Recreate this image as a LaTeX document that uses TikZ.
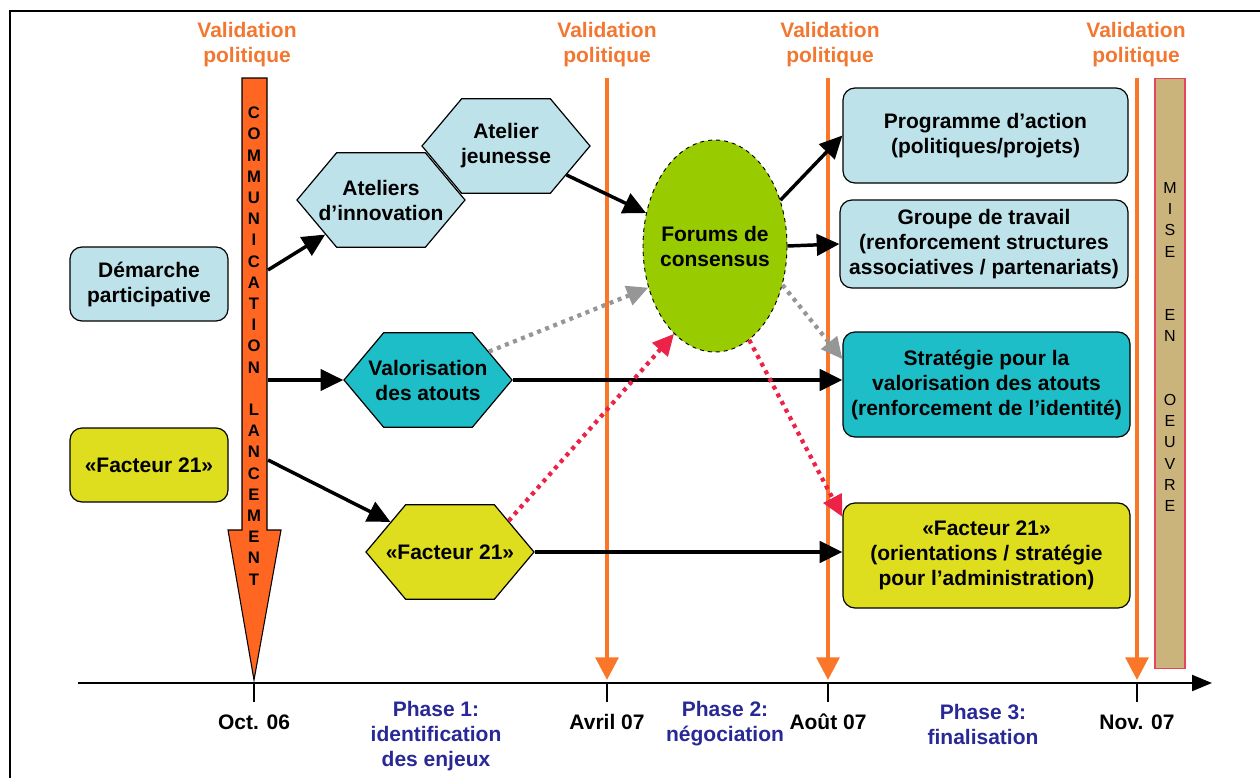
\documentclass[tikz,border=0pt]{standalone}
\usepackage{fontspec}
\setmainfont{Liberation Sans}
\usetikzlibrary{arrows.meta,shapes.geometric,shapes.symbols}

\definecolor{bleuclair}{RGB}{190,226,234}
\definecolor{turquoise}{RGB}{30,190,200}
\definecolor{jaune}{RGB}{222,222,30}
\definecolor{vertforum}{RGB}{153,204,0}
\definecolor{orangeval}{RGB}{242,120,50}
\definecolor{orangetrait}{RGB}{250,118,40}
\definecolor{orangecom}{RGB}{255,102,34}
\definecolor{beige}{RGB}{202,180,124}
\definecolor{rougemise}{RGB}{230,70,90}
\definecolor{rose}{RGB}{236,34,70}
\definecolor{gris}{RGB}{150,150,150}
\definecolor{bleuphase}{RGB}{40,40,150}

\newcommand{\ligne}[1]{\makebox[40pt]{#1}}

\begin{document}
\begin{tikzpicture}[x=0.75pt,y=-0.75pt,
    every node/.style={font=\fontsize{15.75}{18.75}\selectfont\bfseries,align=center,inner sep=0pt},
    boite/.style={draw,rounded corners=9pt,line width=0.9pt},
    hexa/.style={draw,signal,signal to=east and west,signal pointer angle=100,line width=0.9pt,minimum width=126pt,minimum height=71pt},
    lettre/.style={font=\fontsize{12.5}{14}\selectfont\bfseries},
    lettremise/.style={font=\fontsize{12}{14}\selectfont},
    fleche/.style={line width=2.6pt,-{Triangle[length=17pt,width=16pt]}},
    pointille/.style={line width=3.2pt,dash pattern=on 3pt off 3.5pt,-{Triangle[length=16pt,width=15pt]}},
    jalon/.style={draw=orangetrait,line width=3pt,-{Triangle[length=17pt,width=17pt]}},
  ]
  \useasboundingbox (0,0) rectangle (1260,778);
  \draw[line width=1.5pt] (10,778) -- (10,11) -- (1260,11);

  \foreach \x/\nom in {247/v0,607/v1,830/v2,1136/v3}
    \node[text=orangeval] (\nom) at (\x,45) {Validation\\politique};

  \draw[line width=1.6pt,-{Triangle[length=15pt,width=12pt]}] (78,683) -- (1212,683);
  \foreach \x/\d/\nom in {254/Oct. 06/d0,607/Avril 07/d1,828/Août 07/d2,1137/Nov. 07/d3}{
    \coordinate (t\nom) at (\x,683);
    \draw[line width=1.2pt] (t\nom) -- (\x,702);
    \node (\nom) at (\x,722) {\d};
  }
  \foreach \x in {607,828,1137}
    \draw[jalon] (\x,78) -- (\x,680);

  \node[text=bleuphase] (phase1) at (436,736) {Phase 1:\\identification\\des enjeux};
  \node[text=bleuphase] (phase2) at (725,724) {Phase 2:\\négociation};
  \node[text=bleuphase] (phase3) at (983,724) {Phase 3:\\finalisation};

  \draw[fill=orangecom,line width=0.8pt] (242,78) -- (267,78) -- (267,530) -- (281,530)
    -- (254,680) -- (228,530) -- (242,530) -- cycle;
  \foreach \l [count=\i] in {C,O,M,M,U,N,I,C,A,T,I,O,N,{},L,A,N,C,E,M,E,N,T}
    \node[lettre] (com\i) at (254,113+21.2*\i-21.2) {\l};

  \node[draw=rougemise,fill=beige,minimum width=22.5pt,minimum height=443pt,line width=0.8pt] (mise) at (1170,373.5) {};
  \foreach \l [count=\i] in {M,I,S,E,{},{},E,N,{},{},O,E,U,V,R,E}
    \node[lettremise] (mise\i) at (1170,188+21.2*\i-21.2) {\l};

  \node[boite,fill=bleuclair,minimum width=118.5pt,minimum height=55.5pt] (demarche) at (149,284) {Démarche\\participative};
  \node[boite,fill=jaune,minimum width=118.5pt,minimum height=55.5pt] (facteurG) at (149,465) {«Facteur 21»};

  \node[hexa,fill=bleuclair] (ateliers) at (381,200) {\ligne{Ateliers}\\\ligne{d’innovation}};
  \node[hexa,fill=bleuclair] (jeunesse) at (506,146) {\ligne{Atelier}\\\ligne{jeunesse}};
  \node[hexa,fill=turquoise] (valor) at (428,380) {\ligne{Valorisation}\\\ligne{des atouts}};
  \node[hexa,fill=jaune] (facteurH) at (450,552) {\ligne{«Facteur 21»}};

  \node[ellipse,draw,dashed,fill=vertforum,minimum width=108pt,minimum height=159pt,line width=0.7pt] (forum) at (715,246) {\makebox[60pt]{Forums de}\\\makebox[60pt]{consensus}};

  \node[boite,fill=bleuclair,minimum width=213.75pt,minimum height=71.25pt] (programme) at (985.5,135.5) {Programme d’action\\(politiques/projets)};
  \node[boite,fill=bleuclair,minimum width=216pt,minimum height=66pt] (groupe) at (984,244) {Groupe de travail\\(renforcement structures\\associatives / partenariats)};
  \node[boite,fill=turquoise,minimum width=215.25pt,minimum height=78.75pt] (strategie) at (986.5,384.5) {Stratégie pour la\\valorisation des atouts\\(renforcement de l’identité)};
  \node[boite,fill=jaune,minimum width=215.25pt,minimum height=78.75pt] (facteurD) at (986.5,555.5) {«Facteur 21»\\(orientations / stratégie\\pour l’administration)};

  \coordinate (c1) at (268,270);
  \coordinate (c2) at (268,380);
  \coordinate (c3) at (268,460);
  \draw[fleche] (c1) -- (ateliers);
  \draw[fleche] (c2) -- (valor.west);
  \draw[fleche] (c3) -- (facteurH);
  \draw[fleche] (jeunesse) -- (forum);
  \draw[fleche] (valor.east) -- (valor.east -| strategie.west);
  \draw[fleche] (facteurH.east) -- (facteurH.east -| facteurD.west);
  \draw[fleche] (forum.35) -- (programme.west);
  \draw[fleche] (forum.east) -- (groupe.west);
  \draw[pointille,gris] (valor.25) -- (forum.212);
  \draw[pointille,gris] (forum.330) -- (strategie.170);
  \draw[pointille,rose] (facteurH.28) -- (forum.245);
  \draw[pointille,rose] (forum.290) -- (facteurD.165);
\end{tikzpicture}
\end{document}
